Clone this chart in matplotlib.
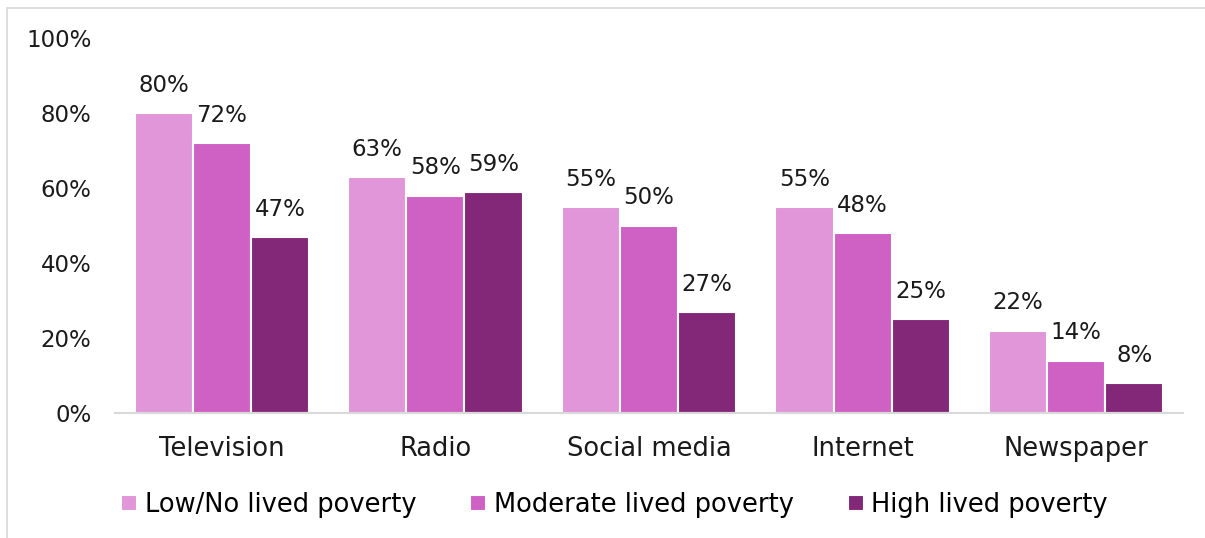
import matplotlib
matplotlib.use("Agg")
import matplotlib.pyplot as plt
from matplotlib.patches import Rectangle
import numpy as np

categories = ["Television", "Radio", "Social media", "Internet", "Newspaper"]
series_names = ["Low/No lived poverty", "Moderate lived poverty", "High lived poverty"]
low_no = [80, 63, 55, 55, 22]
moderate = [72, 58, 50, 48, 14]
high = [47, 59, 27, 25, 8]
y_ticks = [0, 20, 40, 60, 80, 100]

colors = ["#E096D8", "#CF60C4", "#832878"]
series = [low_no, moderate, high]

plt.rcParams["font.family"] = ["DejaVu Sans"]

fig = plt.figure(figsize=(12.05, 5.38), dpi=100)
ax = fig.add_axes([115 / 1205, 1 - 413 / 538, 1068 / 1205, 375 / 538])

num_size = 16.5
text_size = 18.5

x = np.arange(len(categories))
bar_w = 0.272
for i, (vals, col, name) in enumerate(zip(series, colors, series_names)):
    pos = x + (i - 1) * bar_w
    bars = ax.bar(pos, vals, width=bar_w, color=col, edgecolor="white",
                  linewidth=1.5, label=name)
    for b, v in zip(bars, vals):
        ax.text(b.get_x() + b.get_width() / 2, v + 4.3, f"{v}%",
                ha="center", va="bottom", fontsize=num_size, color="#1a1a1a")

ax.set_xlim(-0.5, len(categories) - 0.5)
ax.set_ylim(0, 100)
ax.set_yticks(y_ticks)
ax.set_yticklabels([f"{t}%" for t in y_ticks])
ax.set_xticks(x)
ax.set_xticklabels(categories)
ax.tick_params(axis="both", length=0, colors="#1a1a1a")
ax.tick_params(axis="x", pad=16.5, labelsize=text_size)
ax.tick_params(axis="y", pad=17, labelsize=num_size)
for s in ["top", "right", "left"]:
    ax.spines[s].set_visible(False)
ax.spines["bottom"].set_color("#D9D9D9")
ax.spines["bottom"].set_linewidth(1.5)

leg = fig.legend(loc="center left", bbox_to_anchor=(121 / 1205, 1 - 505 / 538),
                 ncol=3, frameon=False, fontsize=text_size, handlelength=0.62,
                 handleheight=0.62, handletextpad=0.3, columnspacing=2.1,
                 borderaxespad=0, borderpad=0)

# light frame around the figure
fig.patches.append(Rectangle((7 / 1205, -0.01), 1.1, 1 - 8 / 538 + 0.01,
                             transform=fig.transFigure, fill=False,
                             edgecolor="#D9D9D9", linewidth=1.2))

fig.savefig("out.png", dpi=100)
